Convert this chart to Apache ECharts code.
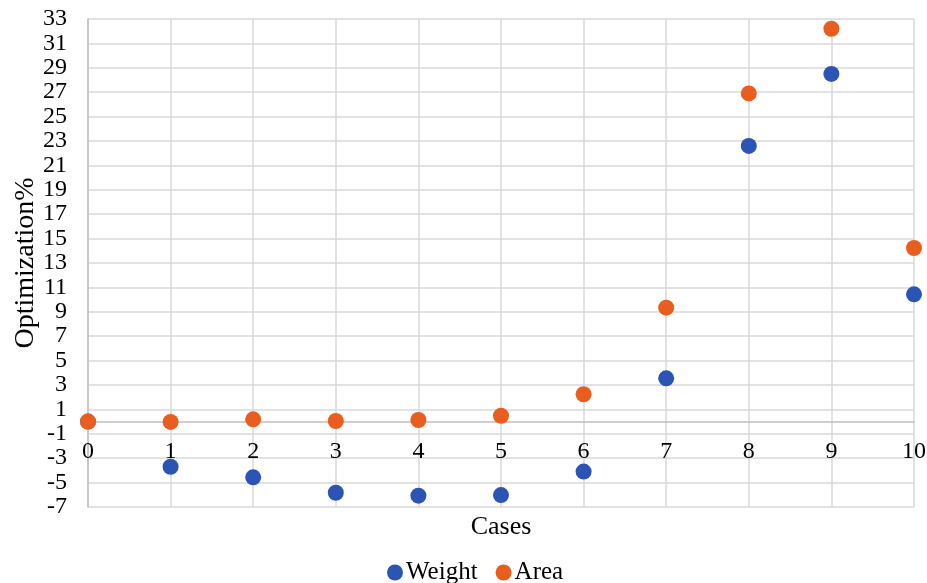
<!DOCTYPE html>
<html>
<head>
<meta charset="utf-8">
<script src="https://cdn.jsdelivr.net/npm/echarts@6/dist/echarts.min.js"></script>
<style>html,body{margin:0;padding:0;background:#fff;}#c{width:927px;height:583px;}</style>
</head>
<body>
<div id="c"></div>
<script>
const cases = [0, 1, 2, 3, 4, 5, 6, 7, 8, 9, 10];
const weight = [0, -3.7, -4.57, -5.83, -6.07, -6.02, -4.1, 3.55, 22.6, 28.5, 10.43];
const area = [0, -0.03, 0.19, 0.05, 0.13, 0.48, 2.24, 9.34, 26.9, 32.2, 14.23];
const yMin = -7, yMax = 33;
const seriesNames = ['Weight', 'Area'];

const font = 'Liberation Serif';
const W = 927, H = 583;
const gridTop = 19, gridBottom = 76;
const gridH = H - gridTop - gridBottom;
// move the x axis up to the zero line (offset measured inward from the bottom edge)
const zeroOffset = -gridH * (0 - yMin) / (yMax - yMin);

const chart = echarts.init(document.getElementById('c'));
chart.setOption({
  animation: false,
  backgroundColor: '#fff',
  grid: { left: 88, right: 13, top: gridTop, bottom: gridBottom, containLabel: false, outerBoundsMode: 'none' },
  legend: {
    bottom: -7, left: 382,
    icon: 'circle', itemWidth: 16, itemHeight: 16, itemGap: 18,
    textStyle: { fontFamily: font, fontSize: 25, color: '#000', padding: [0,0,0,-2] },
    data: seriesNames
  },
  xAxis: {
    type: 'value', min: 0, max: 10, interval: 1,
    position: 'bottom', offset: zeroOffset,
    name: 'Cases', nameLocation: 'middle', nameGap: 93, nameMoveOverlap: false,
    nameTextStyle: { fontFamily: font, fontSize: 26, color: '#000' },
    axisLine: { onZero: false, lineStyle: { color: '#bfbfbf', width: 1.5 } },
    axisTick: { show: false },
    axisLabel: { fontFamily: font, fontSize: 24, color: '#000', margin: 18 },
    splitLine: { show: true, lineStyle: { color: '#d9d9d9', width: 1.5 } }
  },
  yAxis: {
    type: 'value', min: yMin, max: yMax, interval: 1,
    name: 'Optimization%', nameLocation: 'middle', nameGap: 48, nameMoveOverlap: false,
    nameTextStyle: { fontFamily: font, fontSize: 28, color: '#000' },
    axisLine: { show: true, lineStyle: { color: '#bfbfbf', width: 1.5 } },
    axisTick: { show: false },
    axisLabel: {
      fontFamily: font, fontSize: 24, color: '#000', margin: 21,
      formatter: v => (Math.abs(v) % 2 === 1 ? String(v) : '')
    },
    splitLine: { show: true, lineStyle: { color: ['#d9d9d9', 'rgba(0,0,0,0)'], width: 1.5 } }
  },
  series: [
    { name: 'Weight', type: 'scatter', symbolSize: 16, itemStyle: { color: '#2c54b5', opacity: 1 },
      data: cases.map((c, i) => [c, weight[i]]) },
    { name: 'Area', type: 'scatter', symbolSize: 16, itemStyle: { color: '#e95d1e', opacity: 1 },
      data: cases.map((c, i) => [c, area[i]]) }
  ]
});
</script>
</body>
</html>
